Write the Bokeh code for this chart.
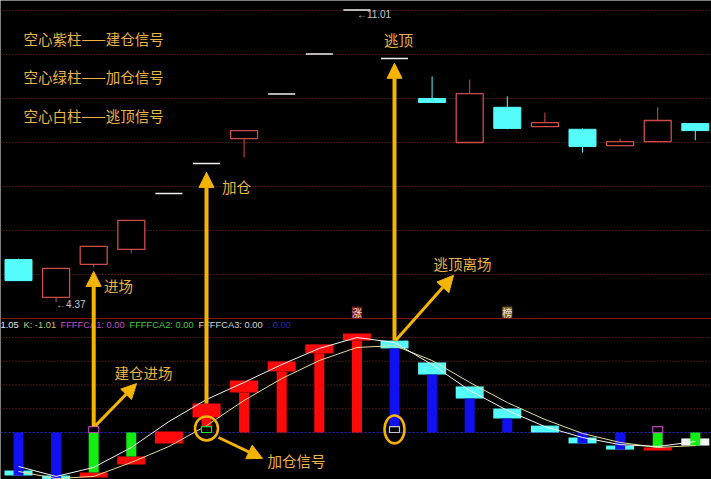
import numpy as np
from bokeh.plotting import figure
from bokeh.models import Range1d, Span, Arrow, NormalHead, Label
from bokeh.core.properties import value
from bokeh.embed import file_html
from bokeh.resources import INLINE

# ---------------- daily candles ----------------
opens  = [5.34, 4.48, 5.23, 5.57, 6.84, 7.52, 8.09, 9.10, 10.01, 11.01, 9.91, 9.00, 8.00, 8.80, 8.36, 8.30, 7.93, 8.02, 8.43]
highs  = [5.36, 5.14, 5.64, 6.23, 6.84, 7.52, 8.27, 9.10, 10.01, 11.01, 9.91, 9.50, 9.43, 9.05, 8.68, 8.32, 8.09, 8.80, 8.43]
lows   = [4.86, 4.37, 5.16, 5.48, 6.84, 7.52, 7.66, 9.10, 10.01, 11.01, 9.91, 8.91, 8.00, 8.30, 8.36, 7.77, 7.93, 8.02, 8.05]
closes = [4.86, 5.14, 5.64, 6.23, 6.84, 7.52, 8.27, 9.10, 10.01, 11.01, 9.91, 8.91, 9.11, 8.32, 8.45, 7.91, 8.02, 8.50, 8.27]

# markers under the candle pane (limit-up / billboard)
tag_idx = [9, 13]
tag_text = ["涨", "榜"]

# ---------------- indicator pane ----------------
cap_hi = [-1.60, -1.81, -1.68, -1.01, 0.04, 1.22, 2.19, 2.99, 3.71, 4.17, 3.87, 2.95, 1.94, 1.01, 0.29, -0.21, -0.55, -0.63, -0.25]
cap_lo = [-1.81, -2.06, -1.89, -1.35, -0.46, 0.63, 1.68, 2.57, 3.33, 3.87, 3.54, 2.44, 1.43, 0.59, 0.00, -0.46, -0.72, -0.76, -0.55]
cap_kind = ["down", "down", "up", "up", "up", "up", "up", "up", "up", "up",
            "down", "down", "down", "down", "down", "down", "down", "up", "exit"]
stem_end = [-1.81, -2.06, -1.68, -1.01, 0.00, 0.63, 1.68, 2.57, 3.33, 3.87, 3.54, 2.44, 1.43, 0.59, 0.00, -0.46, -0.72, -0.63, -0.55]
stem_kind = ["fall", "fall", "hold", "hold", "rise", "rise", "rise", "rise", "rise", "rise",
             "fall", "fall", "fall", "fall", "fall", "fall", "fall", "hold", "hold"]
ma_fast = [-1.43, -1.85, -1.47, -0.63, 0.46, 1.39, 2.11, 2.86, 3.54, 4.00, 3.79, 2.86, 1.77, 0.93, 0.25, -0.21, -0.51, -0.59, -0.38]
ma_slow = [-1.64, -1.94, -1.85, -1.26, -0.59, 0.29, 1.35, 2.27, 3.03, 3.58, 3.66, 3.03, 2.11, 1.26, 0.55, -0.04, -0.42, -0.63, -0.55]

signal_idx = [2, 5, 10, 17]
signal_kind = ["build", "add", "exit", "build"]

legend_lines = ["空心紫柱——建仓信号", "空心绿柱——加仓信号", "空心白柱——逃顶信号"]
header_items = ["1.05", "K: -1.01", "FFFFCA1: 0.00", "FFFFCA2: 0.00", "FFFFCA3: 0.00", ": 0.00"]

# ---------------- layout constants ----------------
W, H = 711, 479
PX_PER_IDX = 37.6
FIRST_X_PX = 18.0
PRICE_TOP = 11.227
PX_PER_PRICE = 44.0
IND_ZERO_PX = 432.0
PX_PER_IND = 23.75

GOLD = "#F5B400"
TEXT_GOLD = "#EAB445"
RED_HOLLOW = "#D24B4B"
CYAN = "#54FCFC"
IND_RED = "#FF0A0A"
IND_BLUE = "#1010F0"
IND_GREEN = "#12EE12"
GRID = "#8A3030"
CJK = "Noto Sans CJK SC"
LATIN = "Liberation Sans"

x0 = -FIRST_X_PX / PX_PER_IDX
p = figure(width=W, height=H, output_backend="svg", toolbar_location=None, tools="",
           x_axis_type=None, y_axis_type=None,
           x_range=Range1d(x0, x0 + W / PX_PER_IDX),
           y_range=Range1d(PRICE_TOP - H / PX_PER_PRICE, PRICE_TOP),
           background_fill_color="black", border_fill_color="black",
           min_border=0, outline_line_color=None)
p.extra_y_ranges = {"ind": Range1d(-(H - IND_ZERO_PX) / PX_PER_IND, IND_ZERO_PX / PX_PER_IND)}
p.grid.visible = False


def ind_to_price(v):
    y_px = IND_ZERO_PX - v * PX_PER_IND
    return PRICE_TOP - y_px / PX_PER_PRICE


def sy(y_top):
    return H - y_top


# ---------------- grid lines ----------------
for price in range(5, 12):
    p.add_layout(Span(location=price, dimension="width", line_color=GRID,
                      line_dash="1 2", line_width=1, level="underlay"))
for lvl in range(1, 5):
    p.add_layout(Span(location=lvl, dimension="width", line_color=GRID, y_range_name="ind",
                      line_dash="1 2", line_width=1, level="underlay"))
p.add_layout(Span(location=0, dimension="width", line_color="#2828C8", y_range_name="ind",
                  line_dash="2 2", line_width=1, level="underlay"))
p.add_layout(Span(location=4.0, dimension="width", line_color="#8A1414", line_width=1))

# ---------------- candles ----------------
idx = np.arange(len(opens))
o, h, l, c = (np.array(a, dtype=float) for a in (opens, highs, lows, closes))
top, bot = np.maximum(o, c), np.minimum(o, c)
body_w = 27 / PX_PER_IDX
up, down, flat = c > o, c < o, c == o

for mask, col in ((up, RED_HOLLOW), (down, CYAN)):
    xs = idx[mask]
    p.segment(x0=xs, y0=h[mask], x1=xs, y1=top[mask], line_color=col, line_width=1)
    p.segment(x0=xs, y0=bot[mask], x1=xs, y1=l[mask], line_color=col, line_width=1)
p.quad(left=idx[up] - body_w / 2, right=idx[up] + body_w / 2, bottom=bot[up], top=top[up],
       fill_color="black", line_color=RED_HOLLOW, line_width=1.3)
p.quad(left=idx[down] - body_w / 2, right=idx[down] + body_w / 2, bottom=bot[down], top=top[down],
       fill_color=CYAN, line_color=CYAN, line_width=1)
p.segment(x0=idx[flat] - body_w / 2, y0=c[flat], x1=idx[flat] + body_w / 2, y1=c[flat],
          line_color="#F0F0F0", line_width=1.5)

# price notes at the extreme candles
lo_i = int(np.argmin(l))
hi_i = int(np.argmax(h))
p.add_layout(Label(x=lo_i, y=float(l[lo_i]), text=f"←{l[lo_i]:.2f}", text_color="#C8C8C8",
                   text_font=LATIN, text_font_size="10px",
                   text_baseline="middle", y_offset=-2))
p.add_layout(Label(x=hi_i, y=float(h[hi_i]), text=f"←{h[hi_i]:.2f}", text_color="#C8C8C8",
                   text_font=LATIN, text_font_size="10px",
                   text_baseline="middle", y_offset=-4))

# tags just above the pane divider
tag_w = 10 / PX_PER_IDX
tag_fill = ["#7A1818", "#7A6420"]
ti = np.array(tag_idx, dtype=float)
p.quad(left=ti - tag_w / 2, right=ti + tag_w / 2, bottom=4.02, top=4.27,
       fill_color=tag_fill, line_color=None)
p.text(x=ti, y=[4.145] * len(ti), text=tag_text, text_color="#F4E0E0",
       text_font=value(CJK), text_font_size="10px", text_align="center", text_baseline="middle")

# ---------------- indicator bars ----------------
cap_w = 28 / PX_PER_IDX
stem_w = 10 / PX_PER_IDX
cap_colors = {"up": IND_RED, "down": CYAN, "exit": "#F4F4F4"}
stem_colors = {"rise": IND_RED, "fall": IND_BLUE, "hold": IND_GREEN}

p.quad(left=idx - cap_w / 2, right=idx + cap_w / 2, bottom=cap_lo, top=cap_hi,
       fill_color=[cap_colors[k] for k in cap_kind], line_color=None, y_range_name="ind")
se = np.array(stem_end)
p.quad(left=idx - stem_w / 2, right=idx + stem_w / 2, bottom=np.minimum(se, 0), top=np.maximum(se, 0),
       fill_color=[stem_colors[k] for k in stem_kind], line_color=None, y_range_name="ind")

p.line(idx, ma_slow, line_color="#E6DE9A", line_width=1, y_range_name="ind")
p.line(idx, ma_fast, line_color="#F4F4F4", line_width=1, y_range_name="ind")

# hollow signal bars
sig_colors = {"build": "#C040C0", "add": "#22E022", "exit": "#C8C8C8"}
si = np.array(signal_idx, dtype=float)
p.quad(left=si - stem_w / 2, right=si + stem_w / 2, bottom=0.0, top=0.25,
       fill_color="black", line_color=[sig_colors[k] for k in signal_kind], line_width=1.2,
       y_range_name="ind")

# highlight rings around the add / exit signals
p.ellipse(x=[5.0, 10.0], y=[0.17, 0.13], width=[23, 20], height=[24, 28],
          width_units="screen", height_units="screen",
          fill_color=None, line_color=GOLD, line_width=2.5, y_range_name="ind")

# ---------------- header row of the indicator ----------------
header_x = [0, 23, 60, 129, 198, 267]
header_col = ["#E6E6E6", "#C8C878", "#C050C0", "#48C848", "#D8D8D8", "#2A2AA8"]
for txt, xx, col in zip(header_items, header_x, header_col):
    p.add_layout(Label(x=xx, y=sy(324), x_units="screen", y_units="screen", text=txt,
                       text_color=col, text_font=LATIN, text_font_size="9.3px",
                       text_baseline="middle"))

# ---------------- legend text ----------------
for txt, yy in zip(legend_lines, [38, 76, 115]):
    p.add_layout(Label(x=23, y=sy(yy), x_units="screen", y_units="screen", text=txt,
                       text_color=TEXT_GOLD, text_font=CJK, text_font_size="14.5px",
                       text_baseline="middle"))

# ---------------- arrows ----------------
def arrow(xs, ys, xe, ye, width=4, size=15, rng="default"):
    p.add_layout(Arrow(x_start=xs, y_start=ys, x_end=xe, y_end=ye, y_range_name=rng,
                       line_color=GOLD, line_width=width,
                       end=NormalHead(size=size, fill_color=GOLD, line_color=GOLD)))

arrow(2, ind_to_price(0.25), 2, 5.07)
arrow(5, ind_to_price(cap_hi[5]), 5, 7.32)
arrow(10, ind_to_price(cap_hi[10]), 10, 9.80)
arrow(10.03, ind_to_price(cap_hi[10]), 11.57, 4.98, width=3, size=16)
arrow(2.05, 0.29, 3.14, 2.06, width=3, size=15, rng="ind")
arrow(5.32, -0.21, 6.49, -1.09, width=3, size=15, rng="ind")

# ---------------- callouts ----------------
callouts = [("逃顶", 398, 39), ("加仓", 236, 186), ("进场", 118, 285),
            ("逃顶离场", 462, 263), ("建仓进场", 143, 372), ("加仓信号", 296, 460)]
for txt, xx, yy in callouts:
    p.add_layout(Label(x=xx, y=sy(yy), x_units="screen", y_units="screen", text=txt,
                       text_color=TEXT_GOLD, text_font=CJK, text_font_size="14.5px",
                       text_align="center", text_baseline="middle"))

open("out.html", "w").write(file_html(p, INLINE))
